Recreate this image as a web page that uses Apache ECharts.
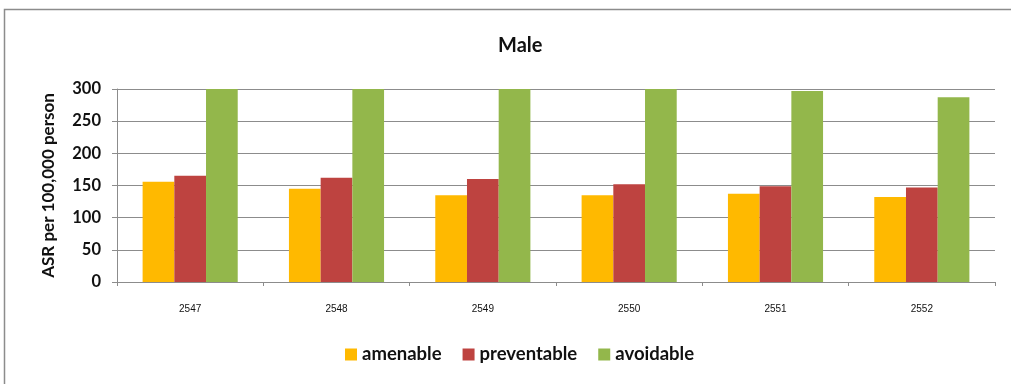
<!DOCTYPE html>
<html>
<head>
<meta charset="utf-8">
<script src="https://cdn.jsdelivr.net/npm/echarts@6/dist/echarts.min.js"></script>
<style>
  html, body { margin: 0; padding: 0; background: #fff; }
  #chart { width: 1011px; height: 384px; }
</style>
</head>
<body>
<div id="chart"></div>
<script>
// Years (Thai Buddhist calendar) and age-standardised rates per 100,000
const years = ['2547', '2548', '2549', '2550', '2551', '2552'];
const amenable = [156, 145, 135, 135, 137, 132];
const preventable = [165, 162, 160, 152, 149, 147];
const avoidable = [300, 300, 300, 300, 297, 287];
const yTicks = [0, 50, 100, 150, 200, 250, 300];

const fontFamily = 'Lato, "Open Sans", sans-serif';

const chart = echarts.init(document.getElementById('chart'));
chart.setOption({
  animation: false,
  backgroundColor: '#ffffff',
  graphic: [{
    type: 'rect',
    shape: { x: 4.5, y: 9.5, width: 1020, height: 400 },
    style: { fill: 'none', stroke: '#8c8c8c', lineWidth: 1.5 },
    silent: true
  }],
  title: {
    text: 'Male',
    left: 493,
    top: 31,
    textStyle: { fontFamily, fontSize: 20, fontWeight: 'bold', color: '#111' }
  },
  legend: {
    bottom: 15,
    left: 340,
    itemWidth: 12,
    itemHeight: 12,
    itemGap: 21,
    icon: 'rect',
    textStyle: { fontFamily, fontSize: 18.5, fontWeight: 'bold', color: '#111' },
    data: ['amenable', 'preventable', 'avoidable']
  },
  grid: { left: 117, right: 16, top: 89, bottom: 102 },
  xAxis: {
    type: 'category',
    data: years,
    axisLine: { lineStyle: { color: '#8c8c8c', width: 1 } },
    axisTick: { show: true, length: 4, lineStyle: { color: '#8c8c8c' } },
    axisLabel: { fontFamily: '"Liberation Sans", Arial, sans-serif', fontSize: 10, color: '#111', margin: 22 }
  },
  yAxis: {
    type: 'value',
    min: 0,
    max: yTicks[yTicks.length - 1],
    interval: 50,
    name: 'ASR per 100,000 person',
    nameLocation: 'middle',
    nameGap: 60,
    nameTextStyle: { fontFamily, fontSize: 17, fontWeight: 'bold', color: '#111' },
    axisLine: { show: true, lineStyle: { color: '#8c8c8c' } },
    axisTick: { show: true, length: 5, lineStyle: { color: '#8c8c8c' } },
    axisLabel: { fontFamily, fontSize: 16.5, fontWeight: 'bold', color: '#111', margin: 16 },
    splitLine: { lineStyle: { color: '#8c8c8c', width: 1 } }
  },
  series: [
    { name: 'amenable', type: 'bar', data: amenable, itemStyle: { color: '#FFB900' },
      barGap: '0%', barCategoryGap: '35%' },
    { name: 'preventable', type: 'bar', data: preventable, itemStyle: { color: '#BE4340' } },
    { name: 'avoidable', type: 'bar', data: avoidable, itemStyle: { color: '#93B74B' } }
  ]
});
</script>
</body>
</html>
